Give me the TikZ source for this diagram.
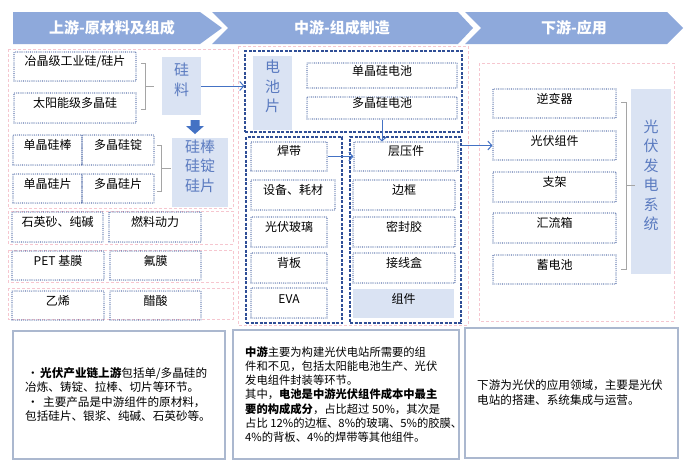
\documentclass[tikz,border=0pt]{standalone}
\usepackage{fontspec}
\setmainfont{Noto Sans CJK SC}
\usetikzlibrary{arrows.meta,fit,calc}
\definecolor{hdr}{HTML}{8EA9DB}
\definecolor{navy}{HTML}{2F4E96}
\definecolor{pinkc}{HTML}{F6C6CF}
\definecolor{lightfill}{HTML}{DAE3F3}
\definecolor{bluetxt}{HTML}{5B7BC0}
\definecolor{arrowc}{HTML}{4472C4}
\definecolor{brk}{HTML}{A5A5A5}
\definecolor{bborder}{HTML}{ABB8CF}
\newcommand\bx[7]{\node[#6, fit={(#2,#3)(#4,#5)}] (#1) {#7};}
\tikzset{
  dotbox/.style={draw=navy, line width=1.1pt, line cap=round, dash pattern=on 0pt off 1.9pt, inner sep=0pt, font=\fontsize{12}{14}\selectfont},
  dashbox/.style={draw=navy, line width=1.2pt, dash pattern=on 3pt off 1.5pt, inner sep=0pt},
  pinkbox/.style={draw=pinkc, line width=0.8pt, dash pattern=on 3pt off 2pt},
  fillbox/.style={fill=lightfill, inner sep=0pt, text=bluetxt, align=center, font=\fontsize{15}{19.5}\selectfont},
  fillboxk/.style={fill=lightfill, inner sep=0pt, font=\fontsize{12}{14}\selectfont},
  hdrtext/.style={text=white, font=\fontsize{15}{18}\selectfont\bfseries},
  brack/.style={draw=brk, line width=1pt},
  arr/.style={draw=arrowc, line width=1pt, -{Straight Barb[length=4pt,width=9pt]}},
  textbox/.style={draw=bborder, line width=1.2pt, inner sep=0pt},
  bodytext/.style={align=left, anchor=west, inner sep=0pt, font=\fontsize{11.6}{14.5}\selectfont}
}
\begin{document}
\begin{tikzpicture}[x=1pt,y=-1pt]
\fill[white] (0,0) rectangle (696,474);
\useasboundingbox (0,0) rectangle (696,474);

% headers
\fill[hdr] (13,12) -- (200,12) -- (222,28) -- (200,44) -- (13,44) -- cycle;
\fill[hdr] (212,12) -- (458,12) -- (473,28) -- (458,44) -- (212,44) -- (228,28) -- cycle;
\fill[hdr] (465,12) -- (667,12) -- (683,28) -- (667,44) -- (465,44) -- (481,28) -- cycle;
\node[hdrtext] (h1) at (112,28) {上游-原材料及组成};
\node[hdrtext] (h2) at (342,28) {中游-组成制造};
\node[hdrtext] (h3) at (574,28) {下游-应用};

% pink regions
\draw[pinkbox] (8,49) rectangle (233,208);
\draw[pinkbox] (8,211) rectangle (233,244);
\draw[pinkbox] (8,250) rectangle (233,282);
\draw[pinkbox] (8,288) rectangle (233,319);
\draw[pinkbox] (238,46) rectangle (468,325);
\draw[pinkbox] (479,63) rectangle (674,321);

% left column
\bx{yj}{14}{52}{136}{81}{dotbox}{冶晶级工业硅/硅片}
\bx{tyn}{14}{93}{136}{123}{dotbox}{太阳能级多晶硅}
\bx{gl}{162}{57}{201}{115}{fillbox}{硅\\料}
\draw[brack] (141,63) -- (145,63) -- (145,109) -- (141,109);
\draw[brack] (145,86) -- (154,86);
\fill[arrowc] (190.5,120) -- (199.5,120) -- (199.5,126) -- (204,126) -- (195,134) -- (186,126) -- (190.5,126) -- cycle;
\bx{djb}{13}{135}{82}{165}{dotbox}{单晶硅棒}
\bx{djd}{82}{135}{154}{165}{dotbox}{多晶硅锭}
\bx{djp}{13}{174}{82}{203}{dotbox}{单晶硅片}
\bx{dpp}{82}{174}{154}{203}{dotbox}{多晶硅片}
\bx{gbox}{172}{138}{228}{207}{fillbox}{硅棒\\硅锭\\硅片}
\draw[brack] (157,145) -- (161,145) -- (161,191) -- (157,191);
\draw[brack] (161,168) -- (171,168);
\bx{sys}{12}{212}{103}{242}{dotbox}{石英砂、纯碱}
\bx{rl}{109}{212}{201}{242}{dotbox}{燃料动力}
\bx{pet}{12}{251}{104}{280}{dotbox}{PET 基膜}
\bx{fm}{110}{251}{201}{280}{dotbox}{氟膜}
\bx{yx}{12}{291}{104}{320}{dotbox}{乙烯}
\bx{cs}{110}{291}{201}{320}{dotbox}{醋酸}

% middle column
\bx{dcp}{245}{51}{462}{132}{dashbox}{}
\bx{dcpl}{253}{56}{292}{130}{fillbox}{电\\池\\片}
\bx{dj1}{307}{63}{457}{88}{dotbox}{单晶硅电池}
\bx{dj2}{307}{97}{457}{119}{dotbox}{多晶硅电池}
\bx{lbox}{246}{137}{342}{323}{dashbox}{}
\bx{rbox}{350}{137}{461}{323}{dashbox}{}
\bx{hd}{251}{142}{327}{171}{dotbox}{焊带}
\bx{sb}{251}{180}{335}{210}{dotbox}{设备、耗材}
\bx{gfbl}{251}{217}{327}{247}{dotbox}{光伏玻璃}
\bx{bb}{251}{253}{327}{283}{dotbox}{背板}
\bx{eva}{251}{288}{327}{318}{dotbox}{EVA}
\bx{cyj}{354}{142}{458}{171}{dotbox}{层压件}
\bx{bk}{353}{180}{455}{210}{dotbox}{边框}
\bx{mfj}{353}{217}{455}{247}{dotbox}{密封胶}
\bx{jxh}{353}{253}{455}{283}{dotbox}{接线盒}
\bx{zj}{353}{289}{454}{318}{fillboxk}{组件}

% right column
\bx{nbq}{493}{89}{616}{118}{dotbox}{逆变器}
\bx{gfzj}{493}{131}{616}{160}{dotbox}{光伏组件}
\bx{zjia}{493}{172}{616}{202}{dotbox}{支架}
\bx{hlx}{493}{213}{616}{243}{dotbox}{汇流箱}
\bx{xdc}{493}{255}{616}{284}{dotbox}{蓄电池}
\bx{gfxt}{631}{89}{671}{274}{fillbox}{光\\伏\\发\\电\\系\\统}
\draw[brack] (621,102) -- (626,102) -- (626,269) -- (621,269);
\draw[brack] (626,185) -- (635,185);

% connectors
\draw[arr] (gl.east) -- (gl.east -| dcp.west);
\draw[arr] (dj2.south) -- (dj2.south |- cyj.north);
\draw[arr] (hd.east) -- (hd.east -| cyj.west);
\draw[arr] (rbox.east |- gfzj.west) -- (gfzj.west);

% bottom text boxes
\bx{tb1}{13}{331}{225}{459}{textbox}{}
\bx{tb2}{233}{330}{459}{459}{textbox}{}
\bx{tb3}{465}{328}{678}{458}{textbox}{}
\node[bodytext] (t1) at (25,394.5) {\makebox[15pt][l]{\hspace{2pt}·}\textbf{光伏产业链上游}包括单/多晶硅的\\
冶炼、铸锭、拉棒、切片等环节。\\
\makebox[18pt][l]{\hspace{2pt}·}主要产品是中游组件的原材料，\\
包括硅片、银浆、纯碱、石英砂等。};
\node[bodytext, font=\fontsize{11.3}{14.2}\selectfont] (t2) at (245,394.5) {\textbf{中游}主要为构建光伏电站所需要的组\\
件和不见，包括太阳能电池生产、光伏\\
发电组件封装等环节。\\
其中，\textbf{电池是中游光伏组件成本中最主}\\
\textbf{要的构成成分}，占比超过 50\%，其次是\\
占比 12\%的边框、8\%的玻璃、5\%的胶膜、\\
4\%的背板、4\%的焊带等其他组件。};
\node[bodytext] (t3) at (477,392.5) {下游为光伏的应用领域，主要是光伏\\
电站的搭建、系统集成与运营。};
\end{tikzpicture}
\end{document}
